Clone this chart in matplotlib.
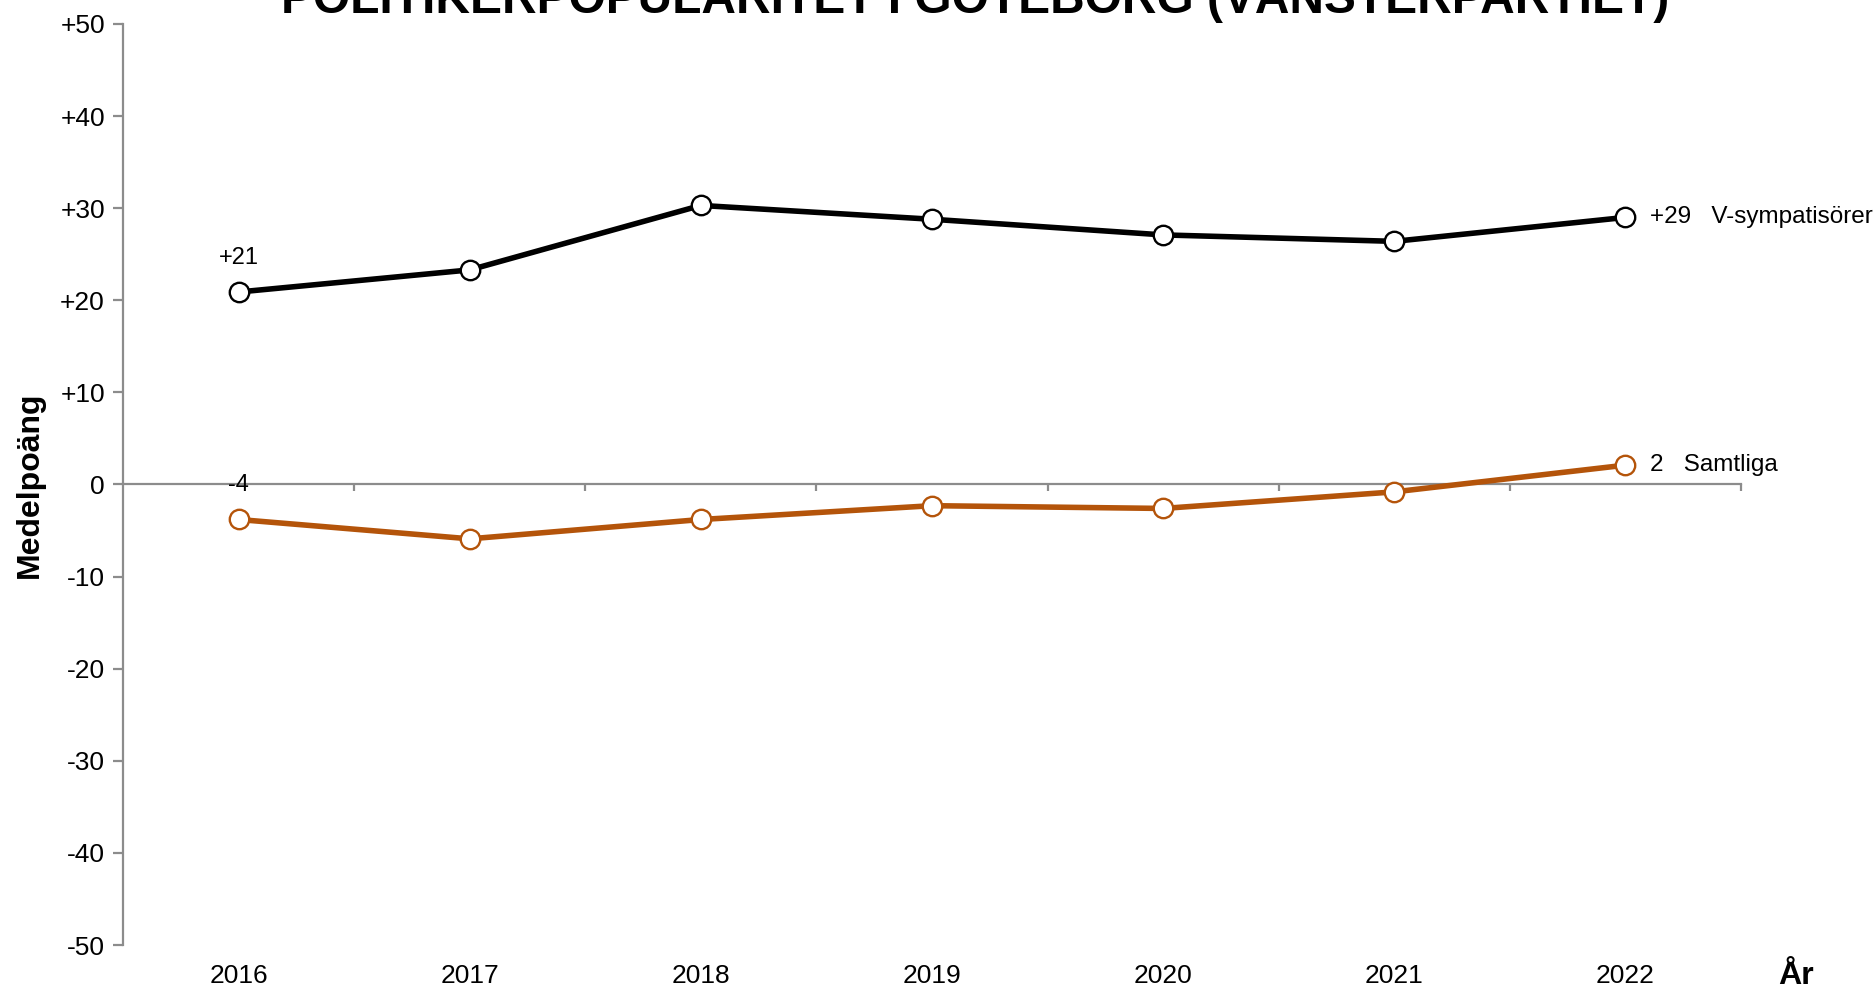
import matplotlib.pyplot as plt
import numpy as np

# data
years = ['2016', '2017', '2018', '2019', '2020', '2021', '2022']
v_symp = [20.9, 23.3, 30.3, 28.8, 27.1, 26.4, 29.0]
samtliga = [-3.8, -5.9, -3.8, -2.3, -2.6, -0.8, 2.1]
series_names = ['V-sympatisörer', 'Samtliga']
first_labels = ['+21', '-4']
last_labels = ['+29', '2']
y_ticks = [-50, -40, -30, -20, -10, 0, 10, 20, 30, 40, 50]

plt.rcParams['font.family'] = ['Liberation Sans', 'DejaVu Sans']

fig = plt.figure(figsize=(18.76, 9.88), dpi=100)
ax = fig.add_axes([123 / 1876, 43 / 988, (1741 - 123) / 1876, (964 - 43) / 988])

x = np.arange(len(years))
colors = ['black', '#b4540a']
for vals, col, name, fl, ll in zip([v_symp, samtliga], colors, series_names, first_labels, last_labels):
    ax.plot(x, vals, color=col, lw=4, marker='o', markersize=14,
            markerfacecolor='white', markeredgecolor=col, markeredgewidth=1.7,
            solid_capstyle='round', zorder=3)
    ax.annotate(fl, xy=(x[0], vals[0]), xytext=(0, 34), textcoords='offset pixels',
                ha='center', va='center', fontsize=17)
    ax.annotate(ll + '   ' + name, xy=(x[-1], vals[-1]), xytext=(25, 0), textcoords='offset pixels',
                ha='left', va='center', fontsize=17.5)

ax.set_xlim(-0.5, len(years) - 0.5)
ax.set_ylim(-50, 50)
ax.set_yticks(y_ticks)
ax.set_yticklabels([('+%d' % t) if t > 0 else str(t) for t in y_ticks], fontsize=19)

# x axis line sits at zero, tick marks on category boundaries
ax.spines['bottom'].set_position(('data', 0))
ax.set_xticks(np.arange(len(years)) + 0.5)
ax.set_xticklabels([])
for s in ['top', 'right']:
    ax.spines[s].set_visible(False)
for s in ['left', 'bottom']:
    ax.spines[s].set_color('#8c8c8c')
    ax.spines[s].set_linewidth(1.6)
ax.tick_params(axis='x', direction='out', length=5, width=1.6, color='#8c8c8c')
ax.tick_params(axis='y', direction='out', length=7, width=1.6, color='#8c8c8c', pad=6)

# year labels at the bottom of the chart
for i, yr in enumerate(years):
    ax.annotate(yr, xy=(i, 0), xycoords=('data', 'axes fraction'), xytext=(0, -31),
                textcoords='offset pixels', ha='center', va='center', fontsize=19)

ax.annotate('År', xy=(1, 0), xycoords='axes fraction', xytext=(55, -31),
            textcoords='offset pixels', ha='center', va='center', fontsize=23, fontweight='bold')
fig.text(30 / 1876, 1 - 485 / 988, 'Medelpoäng', rotation=90, ha='center', va='center',
         fontsize=23, fontweight='bold')

fig.text(975 / 1876, 1 - 13 / 988, 'POLITIKERPOPULARITET I GÖTEBORG (VÄNSTERPARTIET)',
         ha='center', va='baseline', fontsize=34.5, fontweight='bold')

fig.savefig('out.png', dpi=100)
